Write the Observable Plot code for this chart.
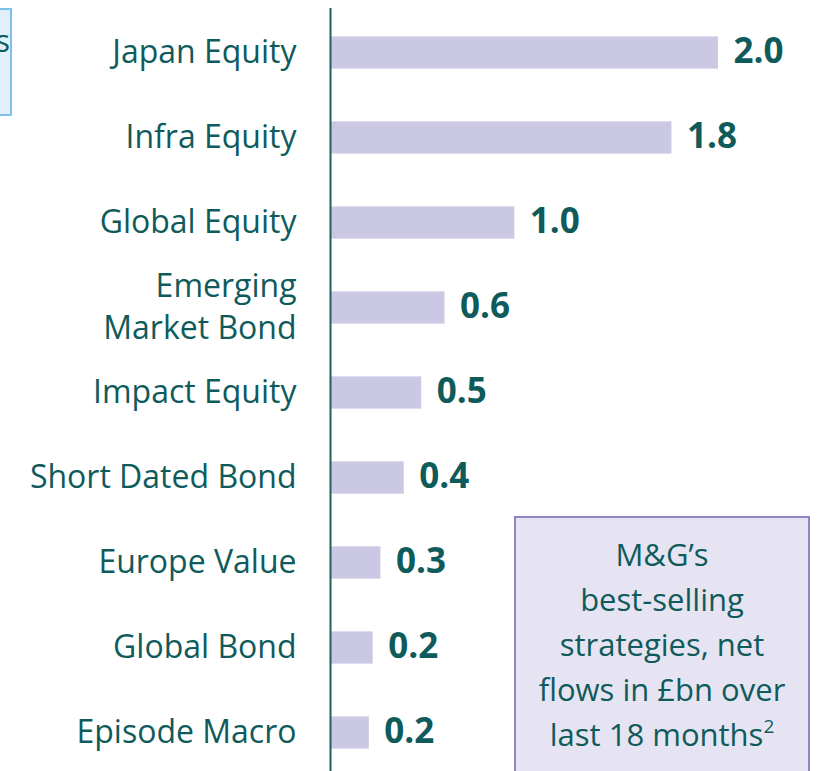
<!DOCTYPE html>
<html>
<head>
<meta charset="utf-8">
<script src="https://cdn.jsdelivr.net/npm/d3@7"></script>
<script src="https://cdn.jsdelivr.net/npm/@observablehq/plot@0.6"></script>
<style>
  html, body { margin: 0; padding: 0; background: #fff; }
  #wrap { position: relative; width: 825px; height: 771px; overflow: hidden; font-family: "Open Sans", sans-serif; }
  #chart svg { display: block; }
  .box-left { position: absolute; left: -120px; top: 8px; width: 128px; height: 104px; background: #e0eff9; border: 2px solid #7cc0ec; box-sizing: content-box; overflow: hidden; color: #0f5b5c; font-size: 31px; text-align: right; line-height: 60px; }
  .box-right { position: absolute; left: 514px; top: 516px; width: 296px; height: 280px; background: #e6e4f2; border: 2px solid #8b86c6; color: #0f5b5c; font-size: 31px; text-align: center; line-height: 45px; padding-top: 14px; box-sizing: border-box; }
  .box-right sup { font-size: 19px; vertical-align: 0; position: relative; top: -13px; }
</style>
</head>
<body>
<div id="wrap">
  <div id="chart"></div>
  <div class="box-left">s</div>
  <div class="box-right">M&amp;G’s<br>best-selling<br>strategies, net<br>flows in £bn over<br>last 18 months<sup>2</sup></div>
</div>
<script>
const strategies = ["Japan Equity", "Infra Equity", "Global Equity", "Emerging\nMarket Bond", "Impact Equity", "Short Dated Bond", "Europe Value", "Global Bond", "Episode Macro"];
const flows = [2.0, 1.76, 0.95, 0.59, 0.47, 0.38, 0.26, 0.22, 0.2];
const flowLabels = ["2.0", "1.8", "1.0", "0.6", "0.5", "0.4", "0.3", "0.2", "0.2"];

const data = strategies.map((s, i) => ({strategy: s, value: flows[i], label: flowLabels[i]}));

const teal = "#0f5b5c";
const chart = Plot.plot({
  width: 825,
  height: 771,
  marginLeft: 330,
  marginRight: 107,
  marginTop: 8,
  marginBottom: 0,
  style: {fontFamily: "'Open Sans', sans-serif", color: teal, background: "transparent"},
  x: {domain: [0, 2], axis: null},
  y: {domain: strategies, range: [7.1, 778.9], padding: 0, axis: null},
  marks: [
    Plot.barX(data, {x: "value", y: "strategy", fill: "#cbc8e3", insetTop: 26.4, insetBottom: 26.4}),
    Plot.axisY({tickSize: 0, tickPadding: 34, fontSize: 32, lineHeight: 1.31, dy: -3, label: null, fill: teal}),
    Plot.text(data, {x: "value", y: "strategy", text: "label", dx: 15, dy: -1, textAnchor: "start", fontSize: 35, fontWeight: "bold", fill: teal, letterSpacing: 1.5}),
    Plot.ruleX([0], {stroke: "#1e6060", strokeWidth: 2})
  ]
});
document.getElementById("chart").appendChild(chart);
</script>
</body>
</html>
